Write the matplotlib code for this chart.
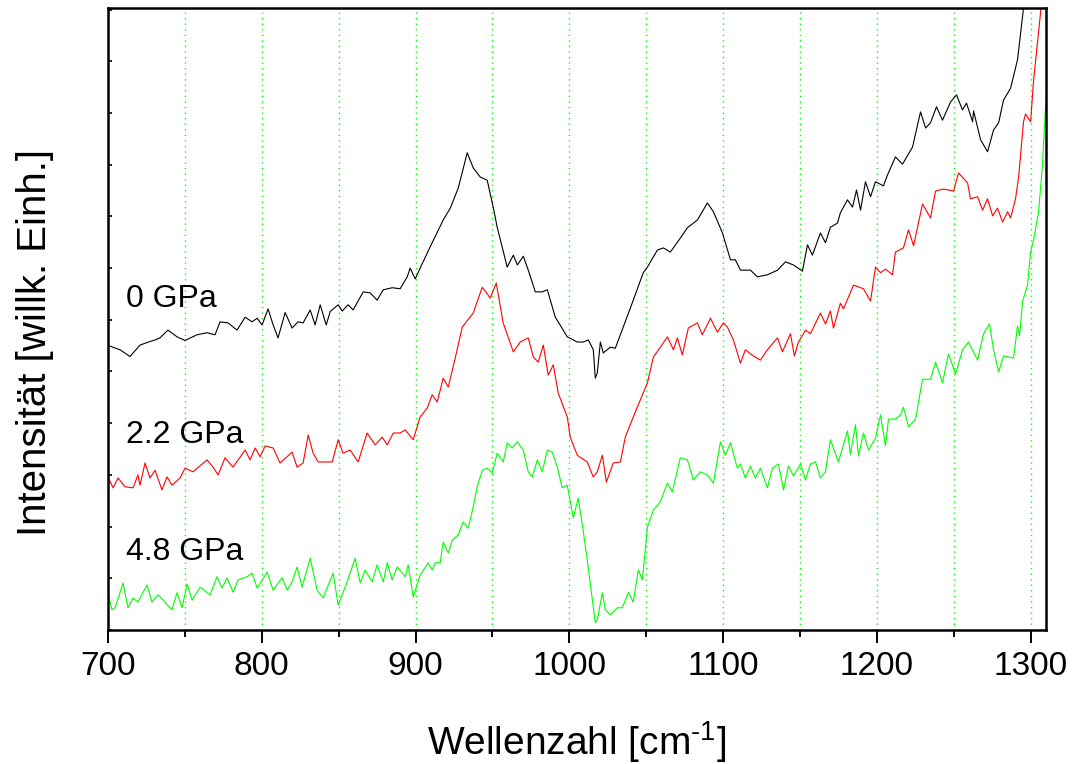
import numpy as np
import matplotlib
matplotlib.use('Agg')
import matplotlib.pyplot as plt
from matplotlib.ticker import MultipleLocator

# ---------------------------------------------------------
# Spectra (wavenumber in cm^-1, intensity in arb. units)
# ---------------------------------------------------------
wn_0gpa = [701.3, 707.8, 714.3, 720.8, 727.3, 730.6, 733.8, 739.0, 744.9, 750.1,
           757.9, 764.4, 769.6, 772.9, 778.1, 783.9, 789.2, 793.7, 797.0, 800.2,
           804.1, 807.4, 810.6, 815.2, 819.7, 823.6, 826.9, 831.5, 834.7, 838.0,
           841.9, 844.5, 849.7, 852.3, 856.2, 859.4, 866.0, 870.5, 875.0, 879.0,
           884.8, 890.0, 894.6, 896.5, 899.8, 903.0, 909.5, 918.0, 922.6, 927.8,
           933.6, 937.5, 942.1, 946.6, 950.5, 953.1, 959.6, 963.6, 966.2, 970.1,
           973.3, 977.9, 982.4, 985.7, 990.9, 998.7, 1005.2, 1009.1, 1012.4, 1015.6,
           1016.9, 1018.2, 1020.2, 1022.1, 1026.7, 1029.9, 1035.1, 1041.6, 1048.1, 1050.8,
           1057.3, 1061.2, 1065.7, 1072.2, 1076.8, 1083.3, 1089.8, 1093.7, 1099.6, 1104.8,
           1108.0, 1111.3, 1117.8, 1122.3, 1128.8, 1135.4, 1140.6, 1145.8, 1151.6, 1154.9,
           1158.1, 1163.3, 1166.6, 1169.8, 1174.4, 1176.3, 1180.9, 1184.2, 1186.8, 1189.4,
           1192.6, 1195.9, 1199.1, 1204.3, 1206.9, 1212.1, 1216.7, 1223.2, 1228.4, 1231.7,
           1234.9, 1238.8, 1242.7, 1247.9, 1251.8, 1255.7, 1258.3, 1262.3, 1262.9, 1267.5,
           1272.0, 1275.9, 1279.2, 1282.4, 1287.0, 1291.5, 1295.4, 1298.0]
int_0gpa = [5.49, 5.42, 5.29, 5.51, 5.58, 5.61, 5.65, 5.80, 5.67, 5.60,
            5.71, 5.75, 5.71, 5.96, 5.94, 5.80, 6.05, 5.96, 6.03, 5.90,
            6.21, 5.90, 5.65, 6.14, 5.84, 5.96, 5.94, 6.19, 5.90, 6.29,
            5.90, 6.16, 6.29, 6.17, 6.29, 6.19, 6.54, 6.52, 6.38, 6.58,
            6.62, 6.60, 6.83, 7.00, 6.79, 7.00, 7.41, 7.93, 8.16, 8.55,
            9.23, 8.94, 8.76, 8.70, 8.18, 7.79, 7.02, 7.25, 7.06, 7.23,
            6.96, 6.54, 6.54, 6.58, 6.05, 5.67, 5.57, 5.57, 5.61, 5.42,
            4.87, 4.97, 5.57, 5.36, 5.47, 5.45, 5.86, 6.38, 6.91, 7.02,
            7.35, 7.39, 7.31, 7.58, 7.78, 7.93, 8.26, 8.09, 7.68, 7.16,
            7.16, 6.96, 6.96, 6.83, 6.87, 6.96, 7.12, 7.06, 6.94, 7.45,
            7.25, 7.68, 7.49, 7.79, 7.87, 8.07, 8.32, 8.18, 8.51, 8.12,
            8.67, 8.38, 8.67, 8.59, 8.80, 9.15, 9.01, 9.34, 10.02, 9.71,
            9.81, 10.12, 9.86, 10.21, 10.35, 10.06, 10.19, 9.83, 10.04, 9.48,
            9.25, 9.67, 9.81, 10.25, 10.48, 11.03, 12.03, 12.60]

wn_22gpa = [700.0, 703.3, 706.5, 711.1, 716.3, 719.5, 720.8, 724.1, 727.3, 730.6,
            735.1, 738.4, 741.6, 746.9, 750.1, 755.3, 764.4, 768.3, 771.6, 776.1,
            781.3, 789.2, 792.4, 795.7, 798.9, 802.2, 807.4, 811.9, 819.7, 823.0,
            826.9, 830.2, 833.4, 836.7, 845.8, 849.7, 852.9, 857.5, 862.7, 868.5,
            873.8, 878.3, 881.6, 885.5, 890.0, 893.3, 898.5, 903.0, 907.6, 910.8,
            914.1, 918.0, 921.3, 925.8, 930.4, 937.5, 943.4, 948.6, 952.5, 957.0,
            963.6, 968.1, 973.3, 976.6, 979.8, 983.1, 986.3, 989.6, 992.8, 998.7,
            1000.6, 1005.2, 1011.7, 1015.6, 1018.2, 1021.5, 1024.1, 1028.6, 1033.2, 1036.4,
            1041.6, 1046.2, 1050.8, 1054.7, 1059.2, 1063.8, 1067.7, 1070.3, 1073.5, 1077.4,
            1083.3, 1086.5, 1091.8, 1096.3, 1100.2, 1102.8, 1106.7, 1111.3, 1114.5, 1119.7,
            1124.3, 1128.8, 1135.4, 1138.6, 1143.8, 1146.4, 1149.0, 1153.6, 1156.8, 1163.3,
            1166.6, 1169.8, 1171.8, 1176.3, 1178.3, 1184.8, 1191.3, 1195.9, 1199.1, 1202.4,
            1205.6, 1210.2, 1212.1, 1217.3, 1220.6, 1223.9, 1229.7, 1234.9, 1238.2, 1243.4,
            1249.9, 1253.1, 1259.0, 1260.9, 1265.5, 1268.8, 1272.0, 1275.3, 1278.5, 1281.8,
            1285.0, 1287.0, 1290.2, 1292.2, 1295.4, 1296.7, 1300.0, 1301.9, 1306.5, 1307.8]
int_22gpa = [2.96, 2.75, 2.94, 2.77, 2.75, 3.00, 2.80, 3.23, 2.94, 3.09,
             2.71, 2.96, 2.80, 2.94, 3.13, 3.06, 3.29, 3.15, 3.00, 3.33,
             3.15, 3.48, 3.29, 3.52, 3.35, 3.56, 3.52, 3.23, 3.44, 3.15,
             3.23, 3.77, 3.42, 3.25, 3.25, 3.68, 3.42, 3.48, 3.25, 3.81,
             3.58, 3.73, 3.58, 3.81, 3.81, 3.87, 3.68, 4.12, 4.29, 4.55,
             4.41, 4.87, 4.70, 5.26, 5.86, 6.13, 6.63, 6.42, 6.71, 5.94,
             5.38, 5.57, 5.65, 5.28, 5.18, 5.51, 4.93, 5.13, 4.58, 4.12,
             3.73, 3.38, 3.25, 2.96, 3.06, 3.38, 2.86, 3.23, 3.25, 3.73,
             4.12, 4.45, 4.78, 5.28, 5.47, 5.67, 5.42, 5.65, 5.32, 5.84,
             5.94, 5.71, 6.03, 5.76, 5.94, 5.86, 5.61, 5.16, 5.42, 5.30,
             5.22, 5.42, 5.65, 5.38, 5.73, 5.30, 5.57, 5.80, 5.73, 6.13,
             5.92, 6.17, 5.84, 6.32, 6.21, 6.67, 6.60, 6.36, 7.02, 6.91,
             6.98, 6.87, 7.31, 7.39, 7.74, 7.43, 8.24, 7.97, 8.49, 8.53,
             8.49, 8.84, 8.65, 8.34, 8.38, 8.12, 8.34, 8.01, 8.16, 7.89,
             8.09, 7.97, 8.34, 8.76, 9.83, 9.98, 9.83, 10.62, 11.95, 12.57]

wn_48gpa = [700.0, 702.6, 704.6, 709.8, 713.0, 716.3, 719.5, 722.8, 725.4, 728.6,
            732.5, 735.8, 741.6, 744.9, 748.2, 751.4, 754.7, 759.9, 766.4, 770.9,
            774.2, 777.4, 781.3, 784.6, 790.5, 793.7, 797.0, 803.5, 807.4, 813.2,
            816.5, 819.7, 823.0, 826.2, 831.5, 836.0, 839.9, 846.4, 849.7, 855.5,
            860.7, 864.0, 867.2, 871.8, 875.0, 879.0, 881.6, 884.8, 888.1, 893.3,
            895.2, 898.5, 903.0, 908.2, 910.8, 912.8, 916.0, 918.0, 921.3, 923.9,
            927.8, 931.0, 934.3, 937.5, 940.1, 943.4, 946.6, 949.9, 953.1, 957.0,
            959.6, 962.9, 966.2, 970.1, 973.3, 975.9, 979.2, 982.4, 985.7, 988.9,
            992.2, 995.4, 998.7, 1002.6, 1005.8, 1008.5, 1011.7, 1016.9, 1018.2, 1021.5,
            1023.4, 1026.7, 1031.2, 1034.5, 1038.4, 1041.6, 1044.9, 1047.5, 1050.8, 1054.7,
            1059.2, 1063.8, 1067.0, 1072.2, 1076.8, 1080.7, 1085.2, 1089.8, 1093.7, 1098.3,
            1101.5, 1104.8, 1109.3, 1111.3, 1114.5, 1117.8, 1121.0, 1124.3, 1128.8, 1132.1,
            1136.0, 1139.3, 1142.5, 1145.8, 1150.3, 1153.6, 1156.8, 1160.1, 1163.3, 1166.6,
            1169.8, 1175.0, 1180.9, 1182.8, 1186.1, 1188.1, 1191.3, 1194.6, 1199.1, 1202.4,
            1205.6, 1207.6, 1212.1, 1215.4, 1217.3, 1220.6, 1225.2, 1229.7, 1234.9, 1238.2,
            1242.7, 1246.6, 1251.2, 1255.7, 1259.6, 1265.5, 1269.4, 1273.3, 1275.9, 1279.2,
            1282.4, 1288.9, 1291.5, 1292.8, 1294.8, 1298.0, 1300.0, 1301.9, 1305.2, 1307.8,
            1309.7, 1312.0]
int_48gpa = [0.72, 0.39, 0.43, 0.91, 0.43, 0.62, 0.54, 0.73, 0.87, 0.54,
             0.68, 0.58, 0.39, 0.72, 0.43, 0.89, 0.58, 0.83, 0.68, 1.03,
             0.81, 1.01, 0.73, 0.97, 1.03, 1.10, 0.81, 1.12, 0.77, 1.01,
             0.77, 0.93, 1.22, 0.83, 1.39, 0.77, 0.62, 1.10, 0.48, 0.93,
             1.39, 0.91, 1.16, 0.93, 1.26, 0.93, 1.30, 0.97, 1.22, 1.03,
             1.26, 0.64, 1.06, 1.30, 1.16, 1.30, 1.30, 1.70, 1.49, 1.74,
             1.84, 2.09, 1.97, 2.38, 2.77, 3.09, 3.13, 3.04, 3.42, 3.25,
             3.62, 3.52, 3.64, 3.48, 3.06, 2.96, 3.29, 3.06, 3.48, 3.44,
             3.15, 2.75, 2.80, 2.17, 2.55, 2.03, 1.35, 0.14, 0.19, 0.72,
             0.39, 0.29, 0.43, 0.43, 0.73, 0.54, 1.16, 0.97, 1.99, 2.32,
             2.48, 2.84, 2.67, 3.33, 3.29, 2.90, 3.06, 3.00, 2.84, 3.64,
             3.38, 3.62, 3.13, 3.21, 2.94, 3.17, 2.94, 3.13, 2.75, 3.13,
             3.21, 2.71, 3.17, 2.98, 3.21, 2.90, 3.21, 3.25, 2.94, 3.06,
             3.68, 3.25, 3.85, 3.40, 3.97, 3.37, 3.81, 3.48, 3.71, 4.16,
             3.56, 4.08, 4.08, 4.16, 4.31, 3.93, 4.08, 4.85, 4.85, 5.18,
             4.78, 5.34, 4.95, 5.42, 5.57, 5.22, 5.73, 5.92, 5.42, 4.99,
             5.30, 5.26, 5.88, 5.69, 6.36, 6.67, 7.31, 7.54, 8.09, 9.03,
             10.10, 10.60]

series = [
    (wn_0gpa, int_0gpa, '#000000'),
    (wn_22gpa, int_22gpa, '#ff0000'),
    (wn_48gpa, int_48gpa, '#00ff00'),
]

labels = ['0 GPa', '2.2 GPa', '4.8 GPa']
label_y = [6.25, 3.62, 1.35]

plt.rcParams['font.family'] = ['Liberation Sans', 'DejaVu Sans']
plt.rcParams['mathtext.fontset'] = 'custom'
plt.rcParams['mathtext.rm'] = 'Liberation Sans'

fig = plt.figure(figsize=(10.79, 7.64), dpi=100)
ax = fig.add_axes([0.1001, 0.1754, 0.8693, 0.8141])

# grid lines every 50 cm^-1 (dotted green)
for xg in np.arange(750, 1301, 50):
    ax.axvline(xg, color='#00ff00', linestyle=(0, (1, 3)), linewidth=1.0, zorder=0)

for wn, inten, col in series:
    ax.plot(wn, inten, color=col, linewidth=0.8)

for lab, yl in zip(labels, label_y):
    ax.text(711.7, yl, lab, fontsize=23, ha='left', va='baseline')

ax.set_xlim(700, 1310)
ax.set_ylim(0, 12.03)

ax.xaxis.set_major_locator(MultipleLocator(100))
ax.xaxis.set_minor_locator(MultipleLocator(50))
ax.yaxis.set_major_locator(MultipleLocator(1))
ax.set_yticklabels([])

ax.tick_params(axis='x', which='major', direction='out', length=9, width=1.4,
               labelsize=24, pad=6)
ax.tick_params(axis='x', which='minor', direction='out', length=5, width=1.4)
ax.tick_params(axis='y', which='major', direction='in', length=3, width=1.2, labelleft=False)

for sp in ax.spines.values():
    sp.set_linewidth(1.8)

ax.set_xlabel('Wellenzahl [cm$^{\\mathregular{\u2010 1}}$]', fontsize=28, labelpad=27)
ax.set_ylabel('Intensität [willk. Einh.]', fontsize=29)
ax.yaxis.set_label_coords(-0.058, 0.463)

fig.savefig('out.png', dpi=100)
